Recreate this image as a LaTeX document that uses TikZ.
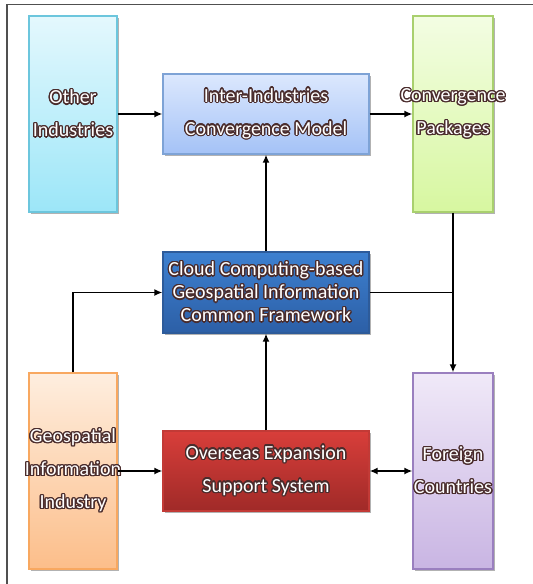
\documentclass[tikz,border=0pt]{standalone}
\usepackage{fontspec}
\setmainfont{Carlito}
\usepackage{contour}
\contourlength{1.3pt}
\usetikzlibrary{arrows.meta,shadows}
\definecolor{oc}{HTML}{4A2C2C}
\definecolor{frm}{HTML}{505050}
\definecolor{oiT}{HTML}{E4F8FD}\definecolor{oiB}{HTML}{9CE6F8}\definecolor{oiD}{HTML}{6CC6DD}
\definecolor{imT}{HTML}{DCE8FE}\definecolor{imB}{HTML}{A4C2F6}\definecolor{imD}{HTML}{7EA3D6}
\definecolor{cpT}{HTML}{F3FDE3}\definecolor{cpB}{HTML}{D7F7A0}\definecolor{cpD}{HTML}{A9D06E}
\definecolor{clT}{HTML}{3D80D0}\definecolor{clB}{HTML}{2C5FA6}\definecolor{clD}{HTML}{2D5B9A}
\definecolor{giT}{HTML}{FEEEDF}\definecolor{giB}{HTML}{FCBE8A}\definecolor{giD}{HTML}{F8A860}
\definecolor{osT}{HTML}{D83E3A}\definecolor{osB}{HTML}{A02A28}\definecolor{osD}{HTML}{C23A36}
\definecolor{fcT}{HTML}{F0E9F8}\definecolor{fcB}{HTML}{C9B5E3}\definecolor{fcD}{HTML}{9A7FBF}
\newcommand\tl[1]{\makebox[0pt]{\contour{oc}{#1}}}
\tikzset{
  box/.style={draw=#1D, line width=1.2pt, top color=#1T, bottom color=#1B,
    inner sep=0pt, align=center, text=white,
    font=\fontsize{20}{33}\selectfont,
    drop shadow={shadow xshift=1.5pt,shadow yshift=-1.5pt,opacity=0.3,fill=black}},
  tall/.style={minimum width=88pt, minimum height=196pt},
  wide/.style={minimum width=206pt, minimum height=80pt},
  arr/.style={line width=1.6pt, -{Latex[length=8pt,width=7pt]}},
  darr/.style={line width=1.6pt, {Latex[length=8pt,width=7pt]}-{Latex[length=8pt,width=7pt]}},
  ln/.style={line width=1.6pt}
}
\begin{document}
\begin{tikzpicture}[x=1pt,y=-1pt]
\useasboundingbox (0,0) rectangle (533,584);
\draw[frm, line width=1.3pt] (7,584) -- (7,4.5) -- (533,4.5);

\node[box=oi, tall] (oi) at (73,114) {\tl{Other}\\\tl{Industries}};
\node[box=im, wide] (im) at (266,114) {\tl{Inter-Industries}\\\tl{Convergence Model}};
\node[box=cp, tall, minimum width=80pt] (cp) at (453,114) {\tl{Convergence}\\\tl{Packages}};
\node[box=cl, wide, minimum height=81pt, font=\fontsize{20}{23}\selectfont] (cl) at (266,292.5) {\tl{Cloud Computing-based}\\\tl{Geospatial Information}\\\tl{Common Framework}};
\node[box=gi, tall] (gi) at (73,471) {\tl{Geospatial}\\\tl{Information}\\\tl{Industry}};
\node[box=os, wide] (os) at (266,471) {\tl{Overseas Expansion}\\\tl{Support System}};
\node[box=fc, tall, minimum width=80pt] (fc) at (453,471) {\tl{Foreign}\\\tl{Countries}};

\draw[arr] (oi.east) -- (im.west);
\draw[arr] (im.east) -- (cp.west);
\draw[arr] (cl.north) -- (im.south);
\draw[arr] (os.north) -- (cl.south);
\draw[arr] (gi.east) -- (os.west);
\draw[darr] (os.east) -- (fc.west);
\draw[arr] (gi.north) |- (cl.west);
\draw[arr] (cp.south) -- (fc.north);
\draw[ln] (cl.east) -- (cl.east -| cp.south);
\end{tikzpicture}
\end{document}
